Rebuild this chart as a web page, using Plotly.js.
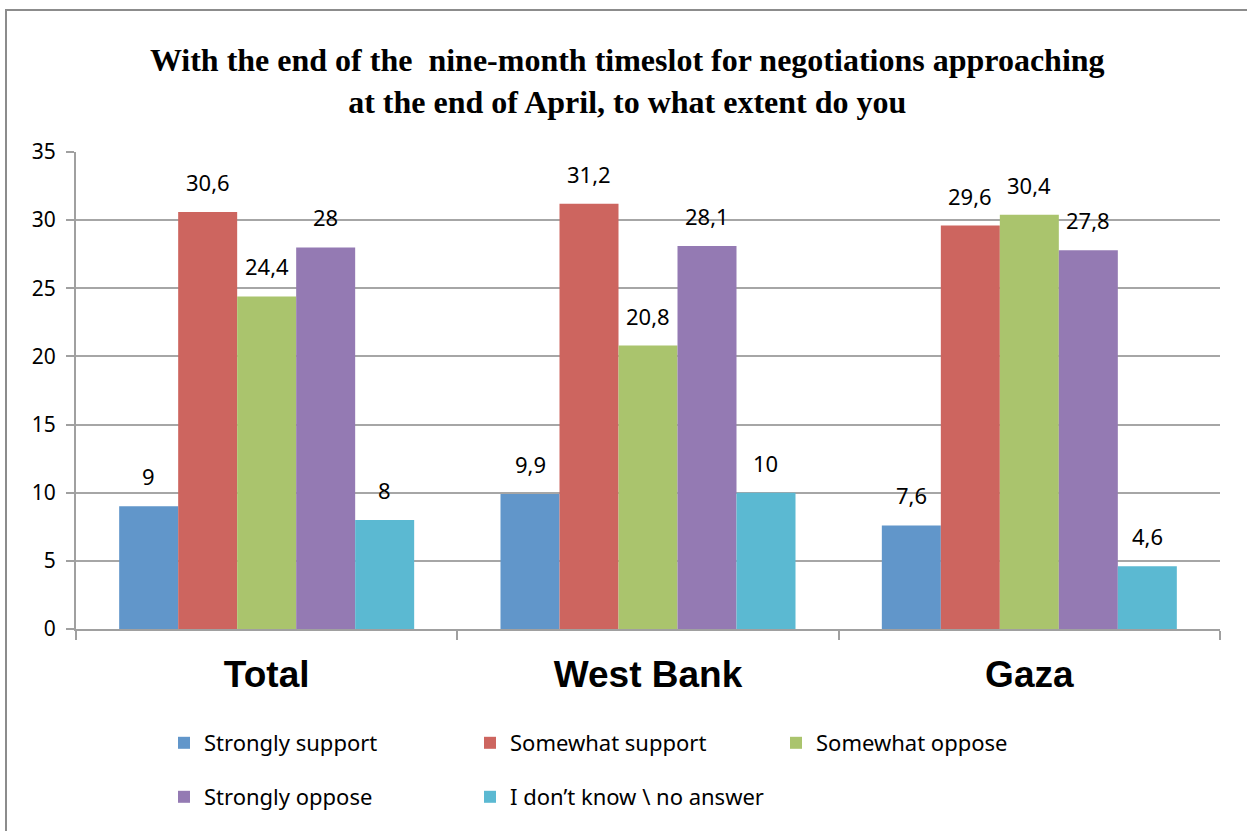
<!DOCTYPE html>
<html>
<head>
<meta charset="utf-8">
<script src="https://cdn.plot.ly/plotly-3.0.1.min.js"></script>
<style>html,body{margin:0;padding:0;background:#fff;}#chart{width:1247px;height:831px;}</style>
</head>
<body>
<div id="chart"></div>
<script>
const categories = ["Total", "West Bank", "Gaza"];
const seriesNames = ["Strongly support", "Somewhat support", "Somewhat oppose", "Strongly oppose", "I don\u2019t know \\ no answer"];
const stronglySupport = [9, 9.9, 7.6];
const somewhatSupport = [30.6, 31.2, 29.6];
const somewhatOppose = [24.4, 20.8, 30.4];
const stronglyOppose = [28, 28.1, 27.8];
const dontKnow = [8, 10, 4.6];
const yTicks = [0, 5, 10, 15, 20, 25, 30, 35];
const titleText = "With the end of the  nine-month timeslot for negotiations approaching<br>at the end of April, to what extent do you";

const seriesValues = [stronglySupport, somewhatSupport, somewhatOppose, stronglyOppose, dontKnow];
const colors = ["#6196CA", "#CD655F", "#AAC46D", "#947AB3", "#5BB9D2"];

const W = 1247, H = 831;
const M = {l: 76, r: 27, t: 152, b: 202};
const plotW = W - M.l - M.r, plotH = H - M.t - M.b;
const bargap = 0.2264;
const barPx = plotW / categories.length * (1 - bargap) / seriesValues.length;

const fmt = v => String(v).replace('.', ',');

const traces = seriesValues.map((vals, i) => ({
  type: 'bar',
  name: seriesNames[i],
  x: categories,
  y: vals,
  marker: {color: colors[i], line: {width: 0}},
  legend: i < 3 ? 'legend' : 'legend2',
  hoverinfo: 'x+y+name'
}));

const annotations = [];
seriesValues.forEach((vals, i) => {
  vals.forEach((v, j) => {
    annotations.push({
      x: categories[j], y: v, xref: 'x', yref: 'y',
      text: fmt(v), showarrow: false,
      xanchor: 'center', yanchor: 'middle',
      xshift: (i - (seriesValues.length - 1) / 2) * barPx,
      yshift: 30,
      font: {family: 'Noto Sans', size: 22, color: '#000'}
    });
  });
});

const px2x = px => (px - M.l) / plotW;
const py2y = py => (H - M.b - py) / plotH;

const legendBase = {
  orientation: 'h', xanchor: 'left', yanchor: 'middle',
  entrywidth: 261, entrywidthmode: 'pixels',
  font: {family: 'Noto Sans', size: 22, color: '#000'},
  bgcolor: 'rgba(0,0,0,0)', itemclick: false, itemdoubleclick: false
};

const layout = {
  width: W, height: H,
  margin: M,
  paper_bgcolor: '#fff', plot_bgcolor: '#fff',
  barmode: 'group', bargap: bargap, bargroupgap: 0,
  title: {
    text: titleText,
    font: {family: 'Liberation Serif', size: 32, color: '#000', weight: 'bold'},
    x: 0.503, xref: 'container', xanchor: 'center',
    y: 1 - 71 / H, yref: 'container', yanchor: 'middle'
  },
  xaxis: {
    type: 'category',
    tickson: 'boundaries',
    ticks: 'outside', ticklen: 9, tickcolor: '#a0a0a0', tickwidth: 2,
    showline: true, linecolor: '#a0a0a0', linewidth: 2,
    showgrid: false,
    tickfont: {family: 'Liberation Sans', size: 37, color: '#000', weight: 'bold'},
    ticklabelstandoff: 12,
    fixedrange: true
  },
  yaxis: {
    range: [0, 35],
    tickmode: 'array', tickvals: yTicks, ticktext: yTicks.map(String),
    ticks: 'outside', ticklen: 8, tickcolor: '#a0a0a0', tickwidth: 2,
    showline: true, linecolor: '#a0a0a0', linewidth: 2,
    showgrid: true, gridcolor: '#a6a6a6', gridwidth: 2,
    zeroline: false,
    tickfont: {family: 'Noto Sans', size: 21, color: '#000'},
    ticklabelstandoff: 6,
    fixedrange: true
  },
  showlegend: true,
  legend: Object.assign({}, legendBase, {x: px2x(164), y: py2y(743)}),
  legend2: Object.assign({}, legendBase, {x: px2x(164), y: py2y(797)}),
  annotations: annotations,
  shapes: [{
    type: 'rect', xref: 'paper', yref: 'paper',
    x0: px2x(6), x1: px2x(1300), y0: py2y(900), y1: py2y(10),
    line: {color: '#8c8c8c', width: 2}, fillcolor: 'rgba(0,0,0,0)', layer: 'above'
  }]
};

Plotly.newPlot('chart', traces, layout, {displayModeBar: false, staticPlot: true});
</script>
</body>
</html>
